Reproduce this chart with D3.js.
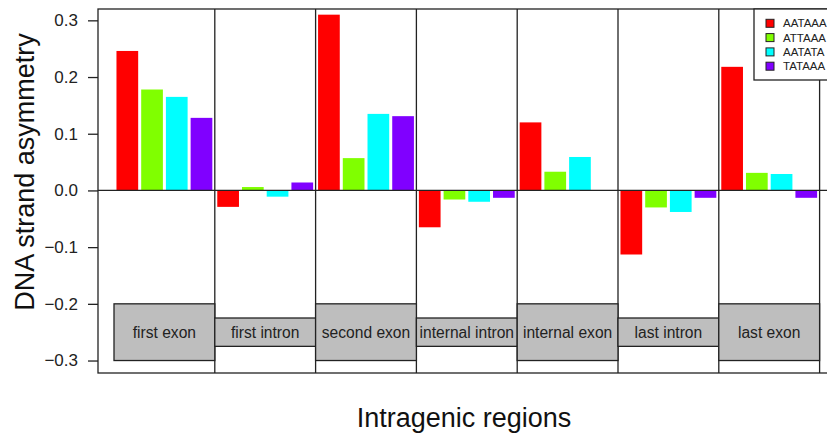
<!DOCTYPE html>
<html>
<head>
<meta charset="utf-8">
<script src="https://cdn.jsdelivr.net/npm/d3@7"></script>
<style>
  html, body { margin: 0; padding: 0; background: #fff; overflow: hidden; }
  svg { display: block; font-family: "Liberation Sans", Arial, sans-serif; }
</style>
</head>
<body>
<svg id="chart" width="827" height="435"></svg>
<script>
// ---- data ----
const categories = ["first exon", "first intron", "second exon", "internal intron", "internal exon", "last intron", "last exon"];
const regionType = ["exon", "intron", "exon", "intron", "exon", "intron", "exon"];
const seriesNames = ["AATAAA", "ATTAAA", "AATATA", "TATAAA"];
const AATAAA = [0.246, -0.029, 0.310, -0.065, 0.120, -0.113, 0.218];
const ATTAAA = [0.178, 0.006, 0.057, -0.016, 0.033, -0.030, 0.031];
const AATATA = [0.165, -0.011, 0.135, -0.020, 0.059, -0.038, 0.029];
const TATAAA = [0.128, 0.014, 0.131, -0.013, 0.000, -0.013, -0.013];
const yTicks = [-0.3, -0.2, -0.1, 0.0, 0.1, 0.2, 0.3];
const colors = ["#FF0000", "#80FF00", "#00FFFF", "#8000FF"];

const series = [AATAAA, ATTAAA, AATATA, TATAAA];

// ---- layout ----
const svg = d3.select("#chart");
const plot = { left: 98, right: 845, top: 9, bottom: 373 };
const lineColor = "#222";

const y = d3.scaleLinear().domain([-0.322, 0.320]).range([plot.bottom, plot.top]);
const x = d3.scaleBand().domain(categories).range([114, 819.6]).padding(0);
const xs = d3.scaleBand().domain(seriesNames).range([0, x.bandwidth()])
  .paddingInner(0.122).paddingOuter(0.10);

// bars
const g = svg.append("g");
categories.forEach((c, i) => {
  seriesNames.forEach((s, j) => {
    const v = series[j][i];
    g.append("rect")
      .attr("x", x(c) + xs(s))
      .attr("width", xs.bandwidth())
      .attr("y", y(Math.max(0, v)))
      .attr("height", Math.abs(y(v) - y(0)))
      .attr("fill", colors[j]);
  });
});

// zero line
svg.append("line")
  .attr("x1", plot.left).attr("x2", plot.right)
  .attr("y1", y(0)).attr("y2", y(0))
  .attr("stroke", lineColor).attr("stroke-width", 1.3);

// group dividers
categories.forEach((c, i) => {
  const xx = x(c) + x.bandwidth();
  svg.append("line")
    .attr("x1", xx).attr("x2", xx)
    .attr("y1", plot.top).attr("y2", plot.bottom)
    .attr("stroke", lineColor).attr("stroke-width", 1.3);
});

// region label boxes
categories.forEach((c, i) => {
  const exon = regionType[i] === "exon";
  const top = exon ? -0.2 : -0.225;
  const bot = exon ? -0.3 : -0.275;
  svg.append("rect")
    .attr("x", x(c)).attr("width", x.bandwidth())
    .attr("y", y(top)).attr("height", y(bot) - y(top))
    .attr("fill", "#BEBEBE").attr("stroke", lineColor).attr("stroke-width", 1.3);
  svg.append("text")
    .attr("x", x(c) + x.bandwidth() / 2)
    .attr("y", y((top + bot) / 2))
    .attr("dy", "0.36em")
    .attr("text-anchor", "middle")
    .attr("font-size", 15.6)
    .attr("fill", "#222")
    .text(c);
});

// plot box
svg.append("rect")
  .attr("x", plot.left).attr("y", plot.top)
  .attr("width", plot.right - plot.left).attr("height", plot.bottom - plot.top)
  .attr("fill", "none").attr("stroke", lineColor).attr("stroke-width", 1.3);

// y axis
const yAxis = d3.axisLeft(y).tickValues(yTicks).tickSize(10).tickPadding(10)
  .tickFormat(d3.format(".1f"));
const ya = svg.append("g").attr("transform", `translate(${plot.left},0)`).call(yAxis);
ya.select(".domain").remove();
ya.selectAll(".tick line").attr("stroke", lineColor).attr("stroke-width", 1.3);
ya.selectAll(".tick text").attr("font-size", 17).attr("fill", "#222")
  .attr("font-family", "Liberation Sans, Arial, sans-serif");

// axis titles
svg.append("text")
  .attr("transform", "translate(34,172) rotate(-90)")
  .attr("text-anchor", "middle")
  .attr("font-size", 27)
  .attr("fill", "#111")
  .text("DNA strand asymmetry");
svg.append("text")
  .attr("x", 464).attr("y", 427)
  .attr("text-anchor", "middle")
  .attr("font-size", 27)
  .attr("fill", "#111")
  .text("Intragenic regions");

// legend
const lg = svg.append("g");
lg.append("rect")
  .attr("x", 754).attr("y", plot.top)
  .attr("width", 120).attr("height", 80 - plot.top)
  .attr("fill", "#fff").attr("stroke", lineColor).attr("stroke-width", 1.3);
seriesNames.forEach((s, j) => {
  const cy = 23.3 + j * 14.3;
  lg.append("rect")
    .attr("x", 766).attr("y", cy - 4)
    .attr("width", 8).attr("height", 8)
    .attr("fill", colors[j]).attr("stroke", "#222").attr("stroke-width", 1);
  lg.append("text")
    .attr("x", 783).attr("y", cy)
    .attr("dy", "0.36em")
    .attr("font-size", 11.5)
    .attr("fill", "#222")
    .text(s);
});
</script>
</body>
</html>
